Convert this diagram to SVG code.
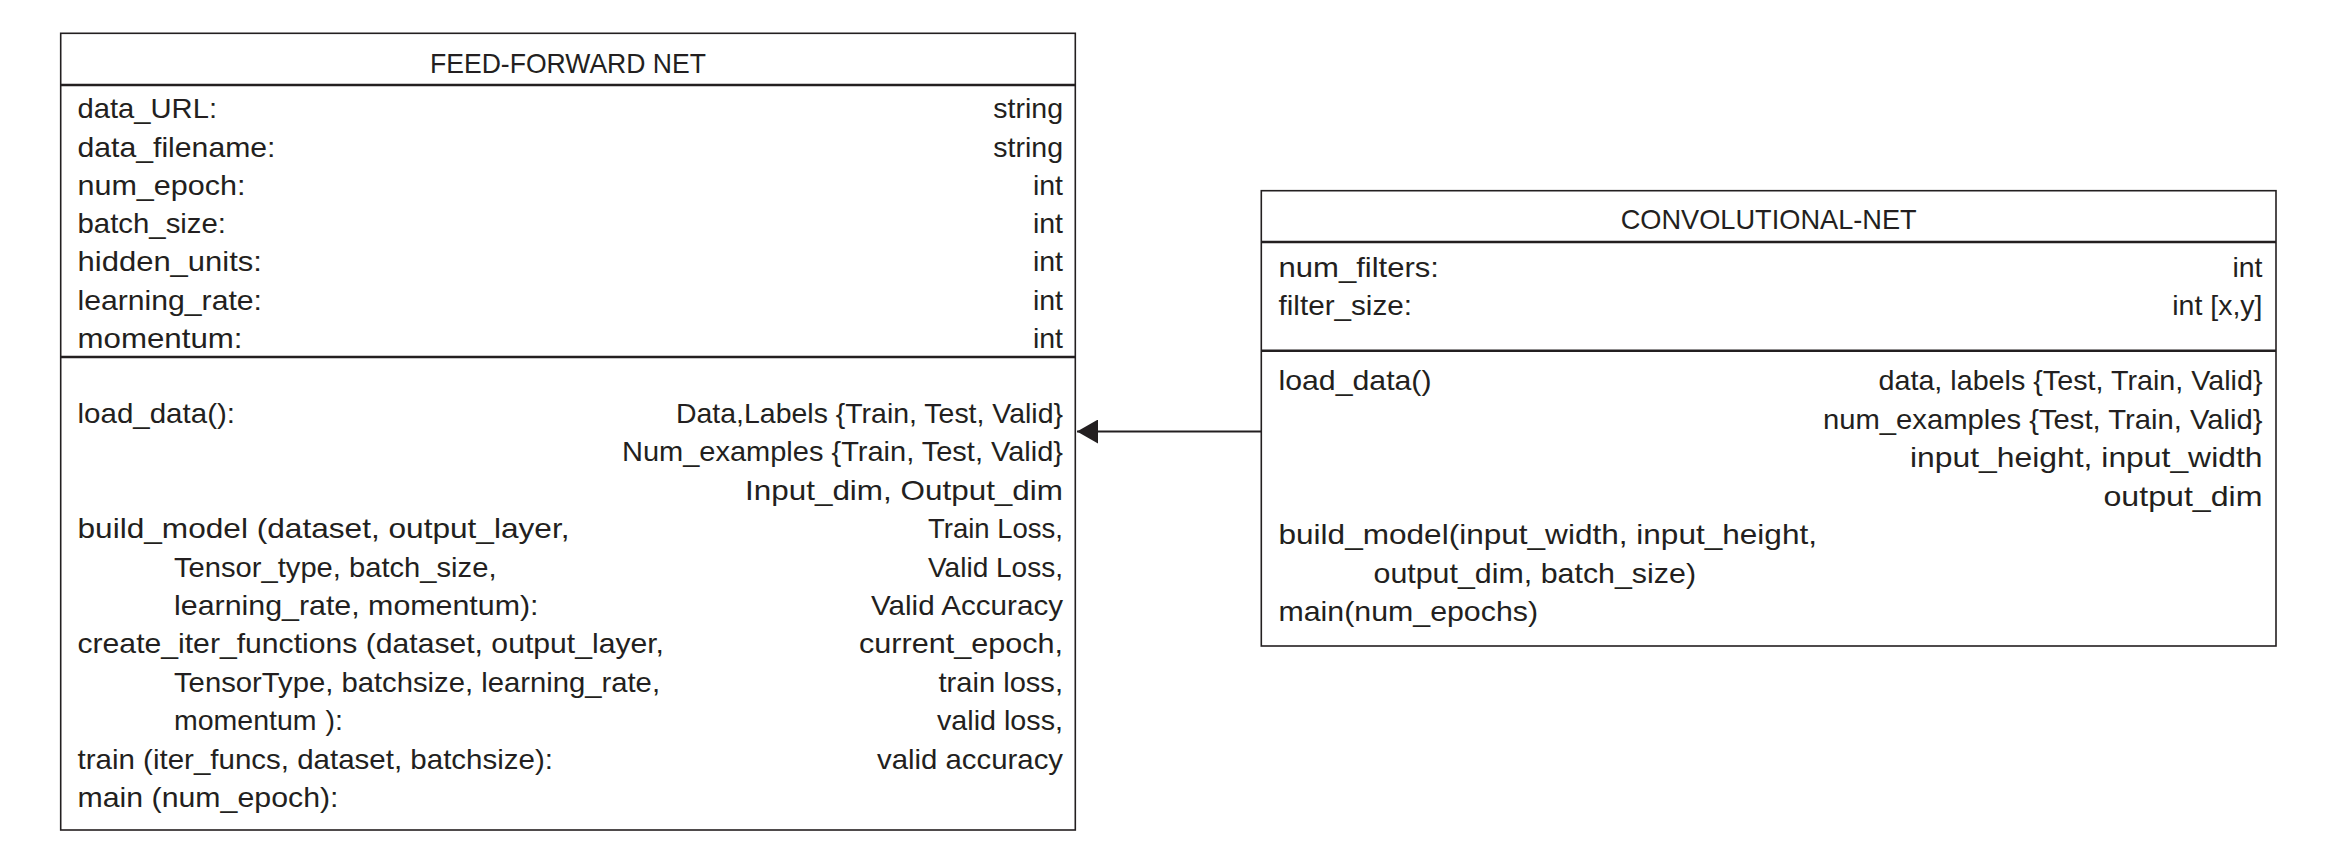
<svg xmlns="http://www.w3.org/2000/svg" width="2350" height="855" viewBox="0 0 2350 855">
<style>
.box{fill:#fff;stroke:#231f20;stroke-width:1.6}
.sep{stroke:#231f20;stroke-width:2.6}
text{font-family:"Liberation Sans",Arial,sans-serif;font-size:28.5px;fill:#231f20}
.r{text-anchor:end}
.c{text-anchor:middle}
</style>
<defs>
<marker id="tri" markerWidth="22" markerHeight="24" refX="21" refY="12" orient="auto" markerUnits="userSpaceOnUse">
<path d="M0,0 L21,12 L0,24 Z" fill="#231f20"/>
</marker>
</defs>
<rect width="2350" height="855" fill="#fff"/>
<g id="connectors">
<line x1="1261" y1="431.5" x2="1077" y2="431.5" stroke="#231f20" stroke-width="2" marker-end="url(#tri)"/>
</g>
<g id="feed-forward-net">
<rect class="box" x="60.7" y="33.3" width="1014.6" height="796.7"/>
<line class="sep" x1="60.7" y1="85" x2="1075.3" y2="85"/>
<line class="sep" x1="60.7" y1="357" x2="1075.3" y2="357"/>
<text class="c" x="568" y="72.5" textLength="276" lengthAdjust="spacingAndGlyphs">FEED-FORWARD NET</text>
<text x="77.5" y="118.3" textLength="139.5" lengthAdjust="spacingAndGlyphs">data_URL:</text><text class="r" x="1063" y="118.3">string</text>
<text x="77.5" y="156.5" textLength="198" lengthAdjust="spacingAndGlyphs">data_filename:</text><text class="r" x="1063" y="156.5">string</text>
<text x="77.5" y="194.8" textLength="168" lengthAdjust="spacingAndGlyphs">num_epoch:</text><text class="r" x="1063" y="194.8">int</text>
<text x="77.5" y="233" textLength="148.5" lengthAdjust="spacingAndGlyphs">batch_size:</text><text class="r" x="1063" y="233">int</text>
<text x="77.5" y="271.3" textLength="184.5" lengthAdjust="spacingAndGlyphs">hidden_units:</text><text class="r" x="1063" y="271.3">int</text>
<text x="77.5" y="309.5" textLength="184.5" lengthAdjust="spacingAndGlyphs">learning_rate:</text><text class="r" x="1063" y="309.5">int</text>
<text x="77.5" y="347.8" textLength="165" lengthAdjust="spacingAndGlyphs">momentum:</text><text class="r" x="1063" y="347.8">int</text>
<text x="77.5" y="423" textLength="157.5" lengthAdjust="spacingAndGlyphs">load_data():</text><text class="r" x="1063" y="423" textLength="387" lengthAdjust="spacingAndGlyphs">Data,Labels {Train, Test, Valid}</text>
<text class="r" x="1063" y="461.4" textLength="441" lengthAdjust="spacingAndGlyphs">Num_examples {Train, Test, Valid}</text>
<text class="r" x="1063" y="499.8" textLength="318" lengthAdjust="spacingAndGlyphs">Input_dim, Output_dim</text>
<text x="77.5" y="538.2" textLength="492" lengthAdjust="spacingAndGlyphs">build_model (dataset, output_layer,</text><text class="r" x="1063" y="538.2" textLength="135" lengthAdjust="spacingAndGlyphs">Train Loss,</text>
<text x="174" y="576.6" textLength="322.5" lengthAdjust="spacingAndGlyphs">Tensor_type, batch_size,</text><text class="r" x="1063" y="576.6" textLength="135" lengthAdjust="spacingAndGlyphs">Valid Loss,</text>
<text x="174" y="615" textLength="364.5" lengthAdjust="spacingAndGlyphs">learning_rate, momentum):</text><text class="r" x="1063" y="615" textLength="192" lengthAdjust="spacingAndGlyphs">Valid Accuracy</text>
<text x="77.5" y="653.4" textLength="586.5" lengthAdjust="spacingAndGlyphs">create_iter_functions (dataset, output_layer,</text><text class="r" x="1063" y="653.4" textLength="204" lengthAdjust="spacingAndGlyphs">current_epoch,</text>
<text x="174" y="691.8" textLength="486" lengthAdjust="spacingAndGlyphs">TensorType, batchsize, learning_rate,</text><text class="r" x="1063" y="691.8" textLength="124.5" lengthAdjust="spacingAndGlyphs">train loss,</text>
<text x="174" y="730.2" word-spacing="1">momentum ):</text><text class="r" x="1063" y="730.2" textLength="126" lengthAdjust="spacingAndGlyphs">valid loss,</text>
<text x="77.5" y="768.6" textLength="475.5" lengthAdjust="spacingAndGlyphs">train (iter_funcs, dataset, batchsize):</text><text class="r" x="1063" y="768.6" textLength="186" lengthAdjust="spacingAndGlyphs">valid accuracy</text>
<text x="77.5" y="807" textLength="261" lengthAdjust="spacingAndGlyphs">main (num_epoch):</text>
</g>
<g id="convolutional-net">
<rect class="box" x="1261.3" y="190.7" width="1014.7" height="455.3"/>
<line class="sep" x1="1261.3" y1="242" x2="2276" y2="242"/>
<line class="sep" x1="1261.3" y1="350.7" x2="2276" y2="350.7"/>
<text class="c" x="1768.7" y="229" textLength="296" lengthAdjust="spacingAndGlyphs">CONVOLUTIONAL-NET</text>
<text x="1278.5" y="276.7" textLength="160.5" lengthAdjust="spacingAndGlyphs">num_filters:</text><text class="r" x="2262.5" y="276.7">int</text>
<text x="1278.5" y="315" textLength="133.5" lengthAdjust="spacingAndGlyphs">filter_size:</text><text class="r" x="2262.5" y="315">int [x,y]</text>
<text x="1278.5" y="390" textLength="153" lengthAdjust="spacingAndGlyphs">load_data()</text><text class="r" x="2262.5" y="390" textLength="384" lengthAdjust="spacingAndGlyphs">data, labels {Test, Train, Valid}</text>
<text class="r" x="2262.5" y="428.5" textLength="439.5" lengthAdjust="spacingAndGlyphs">num_examples {Test, Train, Valid}</text>
<text class="r" x="2262.5" y="467" textLength="352.5" lengthAdjust="spacingAndGlyphs">input_height, input_width</text>
<text class="r" x="2262.5" y="505.5" textLength="159" lengthAdjust="spacingAndGlyphs">output_dim</text>
<text x="1278.5" y="544" textLength="538.5" lengthAdjust="spacingAndGlyphs">build_model(input_width, input_height,</text>
<text x="1373.5" y="582.5" textLength="322.5" lengthAdjust="spacingAndGlyphs">output_dim, batch_size)</text>
<text x="1278.5" y="621" textLength="259.5" lengthAdjust="spacingAndGlyphs">main(num_epochs)</text>
</g>
</svg>
